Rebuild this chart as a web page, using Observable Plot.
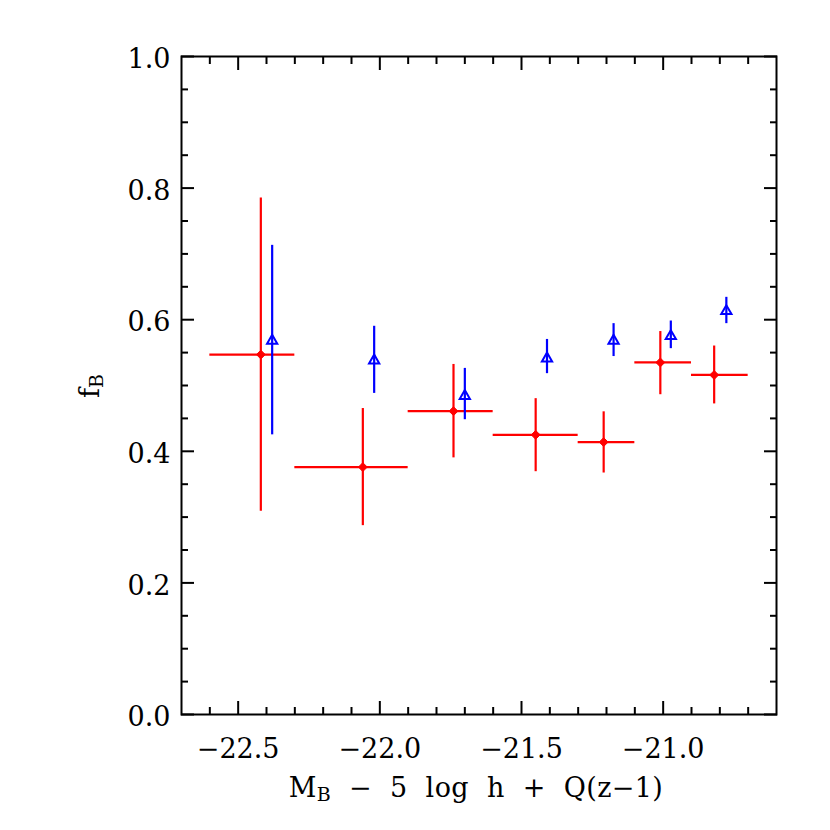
<!DOCTYPE html>
<html>
<head>
<meta charset="utf-8">
<script src="https://cdn.jsdelivr.net/npm/d3@7"></script>
<script src="https://cdn.jsdelivr.net/npm/@observablehq/plot@0.6"></script>
<style>
  html, body { margin: 0; padding: 0; background: #fff; }
  svg { display: block; }
</style>
</head>
<body>
<div id="chart"></div>
<script>
// ---- data ----
const binLo = [-22.6, -22.3, -21.9, -21.6, -21.3, -21.1, -20.9];
const binHi = [-22.3, -21.9, -21.6, -21.3, -21.1, -20.9, -20.7];
const redX  = [-22.42, -22.06, -21.74, -21.45, -21.21, -21.01, -20.82];
const redY  = [0.547, 0.376, 0.461, 0.425, 0.414, 0.535, 0.516];
const redLo = [0.309, 0.287, 0.390, 0.369, 0.367, 0.486, 0.472];
const redHi = [0.785, 0.465, 0.532, 0.480, 0.460, 0.582, 0.560];
const blueX  = [-22.38, -22.02, -21.70, -21.41, -21.175, -20.973, -20.777];
const blueY  = [0.568, 0.538, 0.484, 0.541, 0.568, 0.575, 0.613];
const blueLo = [0.425, 0.488, 0.448, 0.518, 0.544, 0.556, 0.594];
const blueHi = [0.713, 0.590, 0.526, 0.570, 0.594, 0.598, 0.634];
const xMajor = [-22.5, -22.0, -21.5, -21.0];
const xMinor = [-22.6, -22.4, -22.3, -22.2, -22.1, -21.9, -21.8, -21.7, -21.6, -21.4, -21.3, -21.2, -21.1, -20.9, -20.8, -20.7];
const yMajor = [0.0, 0.2, 0.4, 0.6, 0.8, 1.0];
const yMinor = [0.05, 0.1, 0.15, 0.25, 0.3, 0.35, 0.45, 0.5, 0.55, 0.65, 0.7, 0.75, 0.85, 0.9, 0.95];
const xDomain = [-22.7, -20.6];
const yDomain = [0, 1];

const red = redX.map((x, i) => ({x, y: redY[i], lo: redLo[i], hi: redHi[i], x1: binLo[i], x2: binHi[i]}));
const blue = blueX.map((x, i) => ({x, y: blueY[i], lo: blueLo[i], hi: blueHi[i]}));

const FONT = "DejaVu Serif";
const FS = 27;
const fmtX = d => (d < 0 ? "\u2212" : "") + Math.abs(d).toFixed(1);
const fmtY = d => d.toFixed(1);

const tickOpts = {strokeWidth: 2, fill: "none", label: null};

const plot = Plot.plot({
  width: 830,
  height: 830,
  marginLeft: 181,
  marginRight: 54,
  marginTop: 56,
  marginBottom: 116,
  style: {fontFamily: FONT, fontSize: FS + "px", background: "#fff"},
  x: {domain: xDomain, label: null},
  y: {domain: yDomain, label: null},
  marks: [
    // inward ticks on all four sides
    Plot.axisX(xMajor, {anchor: "bottom", tickSize: -13, ...tickOpts}),
    Plot.axisX(xMinor, {anchor: "bottom", tickSize: -7, ...tickOpts}),
    Plot.axisX(xMajor, {anchor: "top", tickSize: -13, ...tickOpts}),
    Plot.axisX(xMinor, {anchor: "top", tickSize: -7, ...tickOpts}),
    Plot.axisY(yMajor, {anchor: "left", tickSize: -13, ...tickOpts}),
    Plot.axisY(yMinor, {anchor: "left", tickSize: -7, ...tickOpts}),
    Plot.axisY(yMajor, {anchor: "right", tickSize: -13, ...tickOpts}),
    Plot.axisY(yMinor, {anchor: "right", tickSize: -7, ...tickOpts}),
    // tick labels
    Plot.axisX(xMajor, {anchor: "bottom", tickSize: 0, tickPadding: 24, tickFormat: fmtX, fontSize: FS, label: null}),
    Plot.axisY(yMajor, {anchor: "left", tickSize: 0, tickPadding: 11, tickFormat: fmtY, fontSize: FS, dy: 3, label: null}),
    // red: error bars (x bins and y errors) and filled diamonds
    Plot.ruleY(red, {y: "y", x1: "x1", x2: "x2", stroke: "#ff0000", strokeWidth: 2.2}),
    Plot.ruleX(red, {x: "x", y1: "lo", y2: "hi", stroke: "#ff0000", strokeWidth: 2.2}),
    Plot.dot(red, {x: "x", y: "y", symbol: "diamond2", r: 4, fill: "#ff0000", stroke: "#ff0000", strokeWidth: 1}),
    // blue: error bars and open triangles
    Plot.ruleX(blue, {x: "x", y1: "lo", y2: "hi", stroke: "#0000ff", strokeWidth: 2.2}),
    Plot.dot(blue, {x: "x", y: "y", symbol: "triangle", r: 3.8, fill: "none", stroke: "#0000ff", strokeWidth: 2}),
    Plot.frame({stroke: "#000", strokeWidth: 2})
  ]
});

// axis titles with subscripts
const svg = d3.select(plot);
const xl = svg.append("text")
  .attr("x", 476).attr("y", 797)
  .attr("text-anchor", "middle")
  .attr("letter-spacing", 0.4)
  .attr("font-family", FONT).attr("font-size", FS).attr("fill", "#000");
xl.append("tspan").text("M");
xl.append("tspan").attr("font-size", 19).attr("dy", 4).text("B");
xl.append("tspan").attr("dy", -4).text("\u00a0\u00a0\u2212\u00a0\u00a05\u00a0\u00a0log\u00a0\u00a0h\u00a0\u00a0+\u00a0\u00a0Q(z\u22121)");

const yl = svg.append("text")
  .attr("transform", "translate(99,386) rotate(-90)")
  .attr("text-anchor", "middle")
  .attr("font-family", FONT).attr("font-size", FS).attr("fill", "#000");
yl.append("tspan").text("f");
yl.append("tspan").attr("font-size", 19).attr("dy", 4).text("B");

document.getElementById("chart").appendChild(plot);
</script>
</body>
</html>
